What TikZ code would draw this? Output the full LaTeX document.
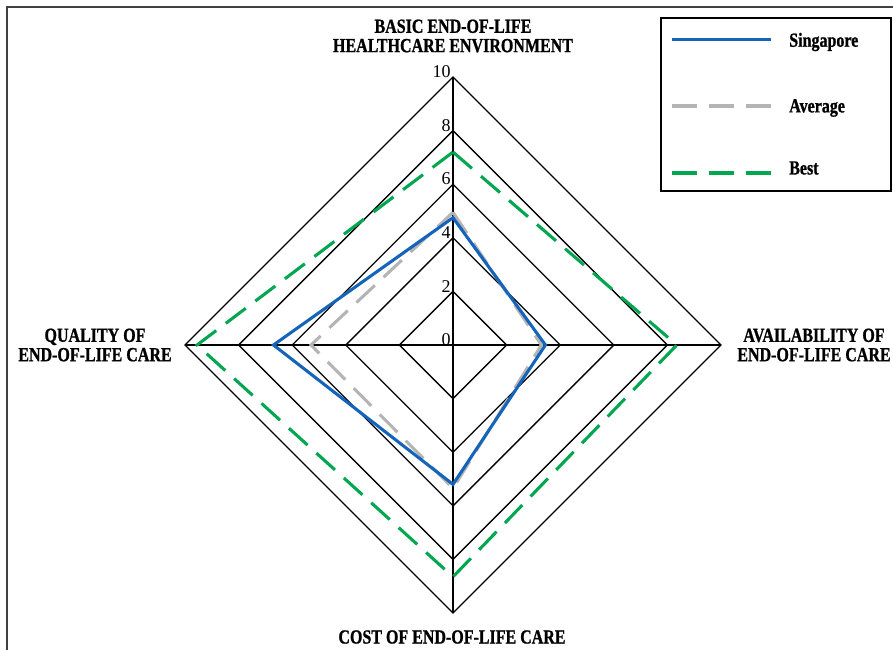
\documentclass[tikz,border=0pt]{standalone}
\usepackage{fontspec}
\setmainfont{Liberation Serif}
\newfontfamily\condb{Liberation Serif}[FakeStretch=0.8,BoldFeatures={FakeBold=1}]
\definecolor{sgblue}{RGB}{20,100,185}
\definecolor{avgray}{RGB}{180,180,180}
\definecolor{bestgreen}{RGB}{0,166,80}
\begin{document}
\begin{tikzpicture}[x=0.75pt,y=-0.75pt,
  gridline/.style={black,line width=1pt},
  axlabel/.style={font=\condb\bfseries\fontsize{15}{14.5}\selectfont,align=center,inner sep=0pt},
  numlabel/.style={font=\fontsize{13.5}{13.5}\selectfont,inner sep=0pt,anchor=south east},
  sgline/.style={sgblue,line width=2.3pt,line join=miter},
  avline/.style={avgray,line width=2.3pt,dash pattern=on 18.75pt off 9pt,line join=miter},
  bestline/.style={bestgreen,line width=2.3pt,dash pattern=on 18.75pt off 9pt,line join=miter},
  legtext/.style={font=\condb\bfseries\fontsize{15}{15}\selectfont,anchor=west,inner sep=0pt}]
\useasboundingbox (0,0) rectangle (893,650);
% frame
\draw[black!75,line width=1.5pt] (7,650) -- (7,7) -- (893,7);
% centre and scale
\def\cx{453}\def\cy{345}\def\s{26.8}
\coordinate (C) at (\cx,\cy);
% grid
\foreach \v in {2,4,6,8,10}{
  \draw[gridline] (\cx,\cy-\s*\v) -- (\cx+\s*\v,\cy) -- (\cx,\cy+\s*\v) -- (\cx-\s*\v,\cy) -- cycle;
}
\coordinate (T) at (\cx,\cy-\s*10);
\coordinate (R) at (\cx+\s*10,\cy);
\coordinate (B) at (\cx,\cy+\s*10);
\coordinate (L) at (\cx-\s*10,\cy);
\draw[gridline] (T) -- (B);
\draw[gridline] (L) -- (R);
% numbers
\foreach \v in {0,2,4,6,8,10}{
  \node[numlabel] (n\v) at (\cx-2,\cy-\s*\v+1) {\v};
}
% data
\draw[bestline] (\cx,\cy-\s*7.2) -- (\cx+\s*8.35,\cy) -- (\cx,\cy+\s*8.65) -- (\cx-\s*9.55,\cy) -- cycle;
\draw[avline] (\cx,\cy-\s*4.95) -- (\cx+\s*3.3,\cy) -- (\cx,\cy+\s*5.35) -- (\cx-\s*5.3,\cy) -- cycle;
\draw[sgline] (\cx,\cy-\s*4.75) -- (\cx+\s*3.45,\cy) -- (\cx,\cy+\s*5.2) -- (\cx-\s*6.7,\cy) -- cycle;
% axis labels
\node[axlabel] (lt) at (453,36) {BASIC END-OF-LIFE\\HEALTHCARE ENVIRONMENT};
\node[axlabel] (lr) at (814,345) {AVAILABILITY OF\\END-OF-LIFE CARE};
\node[axlabel] (ll) at (95,345) {QUALITY OF\\END-OF-LIFE CARE};
\node[axlabel] (lb) at (452,637) {COST OF END-OF-LIFE CARE};
% legend
\node[draw=black,line width=1.5pt,minimum width=230*0.75pt,minimum height=173*0.75pt,inner sep=0pt] (leg) at (776,104.5) {};
\coordinate (s1) at (672,39.5); \coordinate (s2) at (771,39.5);
\coordinate (a1) at (672,106); \coordinate (a2) at (771,106);
\coordinate (b1) at (672,173); \coordinate (b2) at (771,173);
\draw[sgline] (s1) -- (s2);
\draw[avline] (a1) -- (a2);
\draw[bestline] (b1) -- (b2);
\node[legtext] (ts) at (789,42) {Singapore};
\node[legtext] (ta) at (789,108) {Average};
\node[legtext] (tb) at (789,168) {Best};
\end{tikzpicture}
\end{document}
